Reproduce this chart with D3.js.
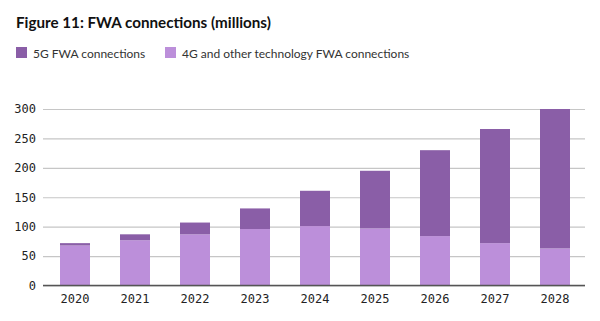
<!DOCTYPE html>
<html>
<head>
<meta charset="utf-8">
<script src="https://cdn.jsdelivr.net/npm/d3@7"></script>
<style>
  body { margin: 0; background: #fff; }
  svg { display: block; }
</style>
</head>
<body>
<script>
var years = ["2020", "2021", "2022", "2023", "2024", "2025", "2026", "2027", "2028"];
var otherFwa = [68, 77, 87, 96, 101, 97, 84, 72, 63];   // 4G and other technology
var fiveGFwa = [4, 10, 20, 35, 60, 98, 146, 194, 237];  // 5G
var yTicks = [0, 50, 100, 150, 200, 250, 300];
var seriesNames = ["5G FWA connections", "4G and other technology FWA connections"];

var width = 600, height = 321;
var dark = "#8a5ea7", light = "#bc8fda";

var svg = d3.select("body").append("svg")
    .attr("width", width)
    .attr("height", height);

svg.append("text")
    .attr("x", 16).attr("y", 28)
    .style("font-family", "Lato, 'Noto Sans', sans-serif")
    .style("font-weight", "bold")
    .style("font-size", "15.2px")
    .style("fill", "#111")
    .text("Figure 11: FWA connections (millions)");

// legend
var legend = svg.selectAll("g.leg").data(seriesNames).enter()
  .append("g").attr("class", "leg")
  .attr("transform", function(d, i) { return "translate(" + (i == 0 ? 16 : 165) + ",47)"; });
legend.append("rect").attr("width", 11).attr("height", 11)
  .style("fill", function(d, i) { return i == 0 ? dark : light; });
legend.append("text").attr("x", 17).attr("y", 10.5)
  .style("font-family", "Lato, 'Noto Sans', sans-serif")
  .style("font-size", "12px")
  .style("fill", "#333")
  .text(function(d) { return d; });

var x = d3.scaleBand().domain(years).range([45, 585]).paddingInner(0.5).paddingOuter(0.25);
var y = d3.scaleLinear().domain([0, 300]).range([285.5, 109]);

// gridlines + tick labels
var yAxis = svg.append("g").attr("transform", "translate(43,0)")
  .call(d3.axisLeft(y).tickValues(yTicks).tickSize(-542).tickPadding(7));
yAxis.select(".domain").remove();
yAxis.selectAll(".tick line").style("stroke", "#c6c6c6").style("stroke-width", 1.2);
yAxis.selectAll(".tick text")
  .style("font-family", "'DejaVu Sans Mono', monospace")
  .style("font-size", "12px")
  .style("fill", "#222");

var data = years.map(function(yr, i) { return {year: yr, other: otherFwa[i], five: fiveGFwa[i]}; });

svg.selectAll("rect.other").data(data).enter().append("rect")
  .attr("class", "other")
  .attr("x", function(d) { return x(d.year); })
  .attr("width", x.bandwidth())
  .attr("y", function(d) { return y(d.other); })
  .attr("height", function(d) { return y(0) - y(d.other); })
  .style("fill", light);

svg.selectAll("rect.five").data(data).enter().append("rect")
  .attr("class", "five")
  .attr("x", function(d) { return x(d.year); })
  .attr("width", x.bandwidth())
  .attr("y", function(d) { return y(d.other + d.five); })
  .attr("height", function(d) { return y(d.other) - y(d.other + d.five); })
  .style("fill", dark);

// x axis
var xAxis = svg.append("g").attr("transform", "translate(0," + y(0) + ")")
  .call(d3.axisBottom(x).tickSize(0).tickPadding(9));
xAxis.select(".domain").attr("d", "M43,0H585").style("stroke", "#555").style("stroke-width", 1.3);
xAxis.selectAll(".tick text")
  .style("font-family", "'DejaVu Sans Mono', monospace")
  .style("font-size", "12px")
  .style("fill", "#222");
</script>
</body>
</html>
